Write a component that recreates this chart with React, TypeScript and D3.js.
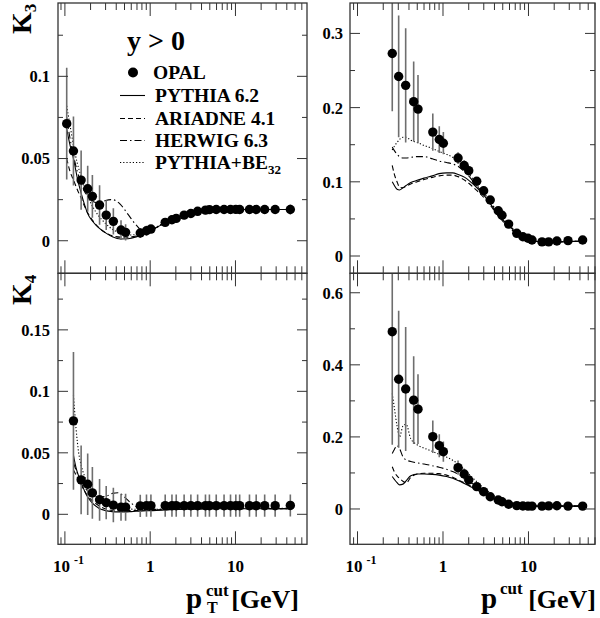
import React from 'react';
import * as d3 from 'd3';

// ---------- data ----------
const ptCut = [0.105, 0.126, 0.155, 0.185, 0.21, 0.255, 0.305, 0.37, 0.455, 0.515, 0.765, 0.905, 1.02, 1.5, 1.8, 2.02, 2.5, 3.0, 3.6, 4.45, 4.95, 5.95, 7.35, 8.75, 10.1, 11.2, 14.6, 17.5, 22, 29.2, 44];
const k3PtOpal = [0.0712, 0.0546, 0.0369, 0.0316, 0.027, 0.0217, 0.0156, 0.0118, 0.0065, 0.0051, 0.0047, 0.0061, 0.0071, 0.0112, 0.0128, 0.0136, 0.0156, 0.0166, 0.0179, 0.0186, 0.0189, 0.019, 0.019, 0.019, 0.0191, 0.019, 0.019, 0.019, 0.019, 0.019, 0.019];
const k3PtErr = [0.034, 0.021, 0.018, 0.014, 0.013, 0.012, 0.009, 0.008, 0.006, 0.005, 0.003, 0.003, 0.0025, 0.0025, 0.0025, 0.0025, 0.0025, 0.0025, 0.0025, 0.0025, 0.0025, 0.0025, 0.0025, 0.0025, 0.0025, 0.0025, 0.0025, 0.0025, 0.0025, 0.0025, 0.003];

const ptCutK4 = [0.126, 0.155, 0.185, 0.21, 0.255, 0.305, 0.37, 0.455, 0.515, 0.765, 0.905, 1.02, 1.5, 1.8, 2.02, 2.5, 3.0, 3.6, 4.45, 4.95, 5.95, 7.35, 8.75, 10.1, 11.2, 14.6, 17.5, 22, 29.2, 44];
const k4PtOpal = [0.076, 0.028, 0.0244, 0.0174, 0.0118, 0.0095, 0.0075, 0.0058, 0.0058, 0.0068, 0.007, 0.007, 0.007, 0.007, 0.007, 0.007, 0.007, 0.007, 0.007, 0.007, 0.007, 0.007, 0.007, 0.007, 0.007, 0.007, 0.007, 0.007, 0.007, 0.0072];
const k4PtErr = [0.056, 0.028, 0.025, 0.021, 0.017, 0.0135, 0.014, 0.011, 0.011, 0.009, 0.009, 0.009, 0.009, 0.009, 0.009, 0.009, 0.009, 0.009, 0.009, 0.009, 0.009, 0.009, 0.009, 0.009, 0.009, 0.009, 0.009, 0.009, 0.009, 0.009];

const pCut = [0.255, 0.303, 0.366, 0.454, 0.51, 0.76, 0.905, 1.01, 1.5, 1.77, 2.0, 2.48, 2.99, 3.57, 4.43, 4.9, 5.86, 7.3, 8.6, 9.87, 11, 14.4, 17.2, 21.5, 29, 43];
const k3POpal = [0.273, 0.242, 0.23, 0.208, 0.198, 0.167, 0.157, 0.152, 0.132, 0.122, 0.115, 0.1007, 0.088, 0.0755, 0.061, 0.055, 0.043, 0.0306, 0.026, 0.024, 0.0216, 0.019, 0.019, 0.0203, 0.0207, 0.0216];
const k3PErr = [0.078, 0.082, 0.077, 0.054, 0.046, 0.025, 0.018, 0.015, 0.008, 0.007, 0.006, 0.005, 0.004, 0.004, 0.003, 0.003, 0.003, 0.002, 0.002, 0.002, 0.002, 0.002, 0.002, 0.002, 0.002, 0.002];
const k4POpal = [0.492, 0.36, 0.333, 0.302, 0.277, 0.2006, 0.1757, 0.159, 0.1147, 0.097, 0.0804, 0.062, 0.048, 0.034, 0.025, 0.02, 0.013, 0.0092, 0.0083, 0.008, 0.008, 0.008, 0.0085, 0.009, 0.008, 0.008];
const k4PErr = [0.314, 0.19, 0.172, 0.122, 0.097, 0.045, 0.032, 0.028, 0.02, 0.015, 0.01, 0.008, 0.006, 0.005, 0.004, 0.003, 0.003, 0.002, 0.002, 0.002, 0.002, 0.002, 0.002, 0.002, 0.002, 0.002];

// MC curves
const gridPtK3 = [0.105, 0.115, 0.126, 0.14, 0.155, 0.17, 0.185, 0.21, 0.25, 0.3, 0.36, 0.45, 0.55, 0.7, 0.85, 1.0, 1.3, 1.6, 2.0, 2.5, 3.0, 4.0, 5.0, 7.0, 10, 15, 25, 45];
const pythiaK3Pt = [0.068, 0.058, 0.05, 0.038, 0.029, 0.022, 0.0165, 0.012, 0.0078, 0.0048, 0.0025, 0.0011, 0.0012, 0.0025, 0.0042, 0.006, 0.0092, 0.0118, 0.0138, 0.0155, 0.0167, 0.018, 0.0186, 0.019, 0.019, 0.019, 0.019, 0.019];
const ariadneK3Pt = [0.05, 0.042, 0.037, 0.031, 0.026, 0.021, 0.017, 0.0125, 0.008, 0.0048, 0.003, 0.0022, 0.0022, 0.003, 0.0045, 0.006, 0.0093, 0.0119, 0.0139, 0.0156, 0.0168, 0.018, 0.0186, 0.019, 0.019, 0.019, 0.019, 0.019];
const herwigK3Pt = [0.075, 0.062, 0.052, 0.042, 0.035, 0.03, 0.027, 0.024, 0.023, 0.0245, 0.025, 0.022, 0.016, 0.009, 0.0055, 0.0062, 0.0093, 0.0119, 0.0139, 0.0156, 0.0168, 0.018, 0.0187, 0.019, 0.0191, 0.019, 0.019, 0.019];
const beK3Pt = [0.082, 0.07, 0.058, 0.047, 0.039, 0.032, 0.027, 0.021, 0.015, 0.0105, 0.007, 0.0045, 0.0035, 0.0038, 0.005, 0.0062, 0.0095, 0.012, 0.014, 0.0157, 0.0168, 0.018, 0.0187, 0.019, 0.019, 0.019, 0.019, 0.019];

const gridPtK4 = [0.126, 0.135, 0.145, 0.155, 0.17, 0.185, 0.21, 0.25, 0.3, 0.36, 0.42, 0.5, 0.6, 0.75, 1.0, 1.5, 2, 3, 5, 10, 20, 45];
const pythiaK4Pt = [0.048, 0.038, 0.031, 0.026, 0.019, 0.014, 0.009, 0.005, 0.003, 0.0022, 0.002, 0.002, 0.0022, 0.0026, 0.003, 0.0035, 0.004, 0.0042, 0.0045, 0.0045, 0.0045, 0.0045];
const ariadneK4Pt = [0.036, 0.032, 0.028, 0.024, 0.019, 0.015, 0.011, 0.007, 0.0045, 0.0032, 0.003, 0.003, 0.003, 0.0032, 0.0035, 0.0038, 0.004, 0.0042, 0.0045, 0.0045, 0.0045, 0.0045];
const herwigK4Pt = [0.042, 0.036, 0.031, 0.027, 0.022, 0.019, 0.016, 0.014, 0.0145, 0.017, 0.0175, 0.014, 0.009, 0.005, 0.004, 0.004, 0.0042, 0.0044, 0.0046, 0.0046, 0.0046, 0.0046];
const beK4Pt = [0.097, 0.07, 0.05, 0.04, 0.031, 0.025, 0.018, 0.0125, 0.009, 0.0065, 0.0052, 0.0045, 0.0042, 0.004, 0.004, 0.0042, 0.0044, 0.0046, 0.0048, 0.0048, 0.0048, 0.0048];

const gridP = [0.255, 0.27, 0.29, 0.31, 0.34, 0.37, 0.42, 0.5, 0.6, 0.75, 0.9, 1.1, 1.3, 1.5, 1.8, 2.1, 2.5, 3.0, 3.6, 4.3, 5.0, 6.0, 7.3, 8.6, 10, 12, 15, 20, 30, 45];
const pythiaK3P = [0.1, 0.095, 0.09, 0.089, 0.092, 0.095, 0.099, 0.102, 0.105, 0.108, 0.111, 0.112, 0.112, 0.11, 0.106, 0.1, 0.092, 0.082, 0.07, 0.058, 0.049, 0.04, 0.031, 0.025, 0.022, 0.02, 0.019, 0.019, 0.0195, 0.02];
const ariadneK3P = [0.122, 0.11, 0.1, 0.093, 0.092, 0.094, 0.097, 0.1, 0.103, 0.106, 0.108, 0.109, 0.109, 0.107, 0.102, 0.096, 0.088, 0.079, 0.068, 0.056, 0.047, 0.038, 0.03, 0.025, 0.022, 0.02, 0.019, 0.019, 0.0195, 0.02];
const herwigK3P = [0.147, 0.142, 0.137, 0.134, 0.132, 0.132, 0.133, 0.134, 0.134, 0.131, 0.128, 0.126, 0.124, 0.121, 0.113, 0.105, 0.094, 0.084, 0.072, 0.06, 0.05, 0.041, 0.032, 0.026, 0.022, 0.02, 0.019, 0.019, 0.0195, 0.02];
const beK3P = [0.143, 0.148, 0.153, 0.157, 0.16, 0.16, 0.156, 0.153, 0.149, 0.145, 0.141, 0.137, 0.133, 0.128, 0.118, 0.108, 0.096, 0.085, 0.073, 0.06, 0.051, 0.041, 0.032, 0.026, 0.022, 0.02, 0.019, 0.019, 0.0195, 0.02];
const pythiaK4P = [0.09, 0.082, 0.073, 0.067, 0.069, 0.078, 0.092, 0.097, 0.097, 0.096, 0.094, 0.09, 0.085, 0.079, 0.07, 0.062, 0.053, 0.044, 0.035, 0.026, 0.02, 0.014, 0.01, 0.0085, 0.008, 0.008, 0.008, 0.008, 0.008, 0.008];
const ariadneK4P = [0.117, 0.103, 0.092, 0.085, 0.077, 0.072, 0.088, 0.097, 0.099, 0.099, 0.098, 0.094, 0.088, 0.081, 0.072, 0.064, 0.055, 0.045, 0.036, 0.027, 0.021, 0.015, 0.011, 0.009, 0.008, 0.008, 0.008, 0.008, 0.008, 0.008];
const herwigK4P = [0.154, 0.165, 0.176, 0.168, 0.145, 0.136, 0.132, 0.128, 0.125, 0.12, 0.116, 0.11, 0.104, 0.097, 0.085, 0.074, 0.062, 0.049, 0.038, 0.028, 0.021, 0.015, 0.011, 0.009, 0.008, 0.008, 0.008, 0.008, 0.008, 0.008];
const beK4P = [0.321, 0.28, 0.23, 0.2, 0.23, 0.235, 0.195, 0.178, 0.169, 0.16, 0.152, 0.144, 0.135, 0.125, 0.108, 0.092, 0.075, 0.058, 0.044, 0.032, 0.024, 0.016, 0.011, 0.009, 0.008, 0.008, 0.008, 0.008, 0.008, 0.008];

const yTicksK3Pt = [0, 0.05, 0.1];
const yTicksK3P = [0, 0.1, 0.2, 0.3];
const yTicksK4Pt = [0, 0.05, 0.1, 0.15];
const yTicksK4P = [0, 0.2, 0.4, 0.6];
const legendLabels = ['PYTHIA 6.2', 'ARIADNE 4.1', 'HERWIG 6.3', 'PYTHIA+BE'];

// ---------- styles ----------
const FONT = "'Liberation Serif', 'Times New Roman', serif";
const DASHES = ['', '5,3', '7,3,1.5,3', '1.2,2'];
const FRAME = '#333';
const ERR = '#6e6e6e';

type Curve = { x: number[]; y: number[] };
type PanelDef = {
  id: string;
  x0: number; x1: number; y0: number; y1: number;
  xDom: [number, number]; yDom: [number, number];
  yMajor: number[]; yMinorStep: number;
  labelRight: number;
  xs: number[]; ys: number[]; errs: number[];
  curves: Curve[];
  bottomLabels: boolean;
};

const LX0 = 58, LX1 = 307, RX0 = 350, RX1 = 595;
const TY0 = 3, MY = 273.3, BY1 = 544.3;

const panels: PanelDef[] = [
  {
    id: 'tl', x0: LX0, x1: LX1, y0: TY0, y1: MY, xDom: [0.083, 69], yDom: [-0.0198, 0.1446],
    yMajor: yTicksK3Pt, yMinorStep: 0.025, labelRight: 50,
    xs: ptCut, ys: k3PtOpal, errs: k3PtErr,
    curves: [pythiaK3Pt, ariadneK3Pt, herwigK3Pt, beK3Pt].map((y) => ({ x: gridPtK3, y })),
    bottomLabels: false,
  },
  {
    id: 'tr', x0: RX0, x1: RX1, y0: TY0, y1: MY, xDom: [0.0817, 60], yDom: [-0.0233, 0.341],
    yMajor: yTicksK3P, yMinorStep: 0.05, labelRight: 343,
    xs: pCut, ys: k3POpal, errs: k3PErr,
    curves: [pythiaK3P, ariadneK3P, herwigK3P, beK3P].map((y) => ({ x: gridP, y })),
    bottomLabels: false,
  },
  {
    id: 'bl', x0: LX0, x1: LX1, y0: MY, y1: BY1, xDom: [0.083, 69], yDom: [-0.0244, 0.196],
    yMajor: yTicksK4Pt, yMinorStep: 0.025, labelRight: 50,
    xs: ptCutK4, ys: k4PtOpal, errs: k4PtErr,
    curves: [pythiaK4Pt, ariadneK4Pt, herwigK4Pt, beK4Pt].map((y) => ({ x: gridPtK4, y })),
    bottomLabels: true,
  },
  {
    id: 'br', x0: RX0, x1: RX1, y0: MY, y1: BY1, xDom: [0.0817, 60], yDom: [-0.098, 0.654],
    yMajor: yTicksK4P, yMinorStep: 0.1, labelRight: 343,
    xs: pCut, ys: k4POpal, errs: k4PErr,
    curves: [pythiaK4P, ariadneK4P, herwigK4P, beK4P].map((y) => ({ x: gridP, y })),
    bottomLabels: true,
  },
];

function fmt(v: number) {
  if (Math.abs(v) < 1e-9) return '0';
  return String(+v.toFixed(3));
}

function Panel({ p }: { p: PanelDef }) {
  const xs = d3.scaleLog().domain(p.xDom).range([p.x0, p.x1]);
  const ys = d3.scaleLinear().domain(p.yDom).range([p.y1, p.y0]);

  const xTicks: { v: number; major: boolean }[] = [];
  for (let e = -2; e <= 2; e++) {
    for (let m = 1; m <= 9; m++) {
      const v = m * Math.pow(10, e);
      if (v >= p.xDom[0] && v <= p.xDom[1]) xTicks.push({ v, major: m === 1 });
    }
  }
  const yTicks: { v: number; major: boolean }[] = [];
  const kMin = Math.ceil(p.yDom[0] / p.yMinorStep - 1e-9);
  const kMax = Math.floor(p.yDom[1] / p.yMinorStep + 1e-9);
  for (let k = kMin; k <= kMax; k++) {
    const v = k * p.yMinorStep;
    const major = p.yMajor.some((m) => Math.abs(m - v) < 1e-9);
    yTicks.push({ v, major });
  }

  const line = d3
    .line<[number, number]>()
    .x((d) => xs(d[0]))
    .y((d) => ys(d[1]))
    .curve(d3.curveMonotoneX);

  const clipId = `clip-${p.id}`;
  return (
    <g>
      <defs>
        <clipPath id={clipId}>
          <rect x={p.x0} y={p.y0} width={p.x1 - p.x0} height={p.y1 - p.y0} />
        </clipPath>
      </defs>
      <g clipPath={`url(#${clipId})`}>
        {p.curves.map((c, i) => (
          <path
            key={i}
            d={line(c.x.map((x, j) => [x, c.y[j]] as [number, number])) || ''}
            fill="none"
            stroke="#000"
            strokeWidth={1.1}
            strokeDasharray={DASHES[i] || undefined}
          />
        ))}
        {p.xs.map((x, i) => (
          <line
            key={'e' + i}
            x1={xs(x)}
            x2={xs(x)}
            y1={ys(p.ys[i] - p.errs[i])}
            y2={ys(p.ys[i] + p.errs[i])}
            stroke={ERR}
            strokeWidth={1.6}
          />
        ))}
        {p.xs.map((x, i) => (
          <circle key={'c' + i} cx={xs(x)} cy={ys(p.ys[i])} r={4.7} fill="#000" />
        ))}
      </g>
      {xTicks.map((t, i) => {
        const len = t.major ? 13 : 7;
        const x = xs(t.v);
        return (
          <g key={'xt' + i}>
            <line x1={x} x2={x} y1={p.y1} y2={p.y1 - len} stroke={FRAME} strokeWidth={1} />
            <line x1={x} x2={x} y1={p.y0} y2={p.y0 + len} stroke={FRAME} strokeWidth={1} />
          </g>
        );
      })}
      {yTicks.map((t, i) => {
        const len = t.major ? 10 : 5;
        const y = ys(t.v);
        return (
          <g key={'yt' + i}>
            <line x1={p.x0} x2={p.x0 + len} y1={y} y2={y} stroke={FRAME} strokeWidth={1} />
            <line x1={p.x1} x2={p.x1 - len} y1={y} y2={y} stroke={FRAME} strokeWidth={1} />
            {t.major && (
              <text
                x={p.labelRight}
                y={y}
                dy="0.36em"
                textAnchor="end"
                fontFamily={FONT}
                fontWeight="bold"
                fontSize={16.5}
              >
                {fmt(t.v)}
              </text>
            )}
          </g>
        );
      })}
      <rect
        x={p.x0}
        y={p.y0}
        width={p.x1 - p.x0}
        height={p.y1 - p.y0}
        fill="none"
        stroke={FRAME}
        strokeWidth={1.3}
      />
      {p.bottomLabels &&
        xTicks
          .filter((t) => t.major)
          .map((t, i) => {
            const x = xs(t.v);
            if (t.v < 0.5) {
              return (
                <text key={'xl' + i} x={x - 12} y={572} fontFamily={FONT} fontWeight="bold" fontSize={17}>
                  10
                  <tspan fontSize={12} dx={4} dy={-8}>
                    -1
                  </tspan>
                </text>
              );
            }
            return (
              <text key={'xl' + i} x={x} y={572} textAnchor="middle" fontFamily={FONT} fontWeight="bold" fontSize={17}>
                {t.v >= 10 ? '10' : '1'}
              </text>
            );
          })}
    </g>
  );
}

function Legend() {
  const tx = 155;
  const base = [101.5, 124.5, 146.5, 168.5];
  return (
    <g fontFamily={FONT} fontWeight="bold">
      <text x={127} y={50} fontSize={28}>
        y &gt; 0
      </text>
      <circle cx={133} cy={72.5} r={5} fill="#000" />
      <text x={tx - 2} y={79} fontSize={19.5}>
        OPAL
      </text>
      {legendLabels.map((l, i) => (
        <g key={l}>
          <line
            x1={120}
            x2={145}
            y1={base[i] - 6}
            y2={base[i] - 6}
            stroke="#000"
            strokeWidth={1.1}
            strokeDasharray={DASHES[i] || undefined}
          />
          <text x={tx} y={base[i]} fontSize={19.5}>
            {l}
            {i === 3 && (
              <tspan fontSize={13} dy={5}>
                32
              </tspan>
            )}
          </text>
        </g>
      ))}
    </g>
  );
}

export default function App() {
  return (
    <svg
      width={600}
      height={618}
      style={{ position: 'absolute', left: 0, top: 0, background: '#fff' }}
    >
      <rect x={0} y={0} width={600} height={618} fill="#fff" />
      {panels.map((p) => (
        <Panel key={p.id} p={p} />
      ))}
      <Legend />
      <text transform="translate(31,34) rotate(-90)" fontFamily={FONT} fontWeight="bold" fontSize={28}>
        K<tspan fontSize={17} dy={5}>3</tspan>
      </text>
      <text transform="translate(31,305) rotate(-90)" fontFamily={FONT} fontWeight="bold" fontSize={28}>
        K<tspan fontSize={17} dy={5}>4</tspan>
      </text>
      <g fontFamily={FONT} fontWeight="bold">
        <text x={186} y={608} fontSize={29}>p</text>
        <text x={206} y={596} fontSize={17}>cut</text>
        <text x={207} y={613} fontSize={16}>T</text>
        <text x={299} y={608} fontSize={26} textAnchor="end">[GeV]</text>
        <text x={481} y={608} fontSize={29}>p</text>
        <text x={500} y={594} fontSize={17}>cut</text>
        <text x={596} y={608} fontSize={26} textAnchor="end">[GeV]</text>
      </g>
    </svg>
  );
}
